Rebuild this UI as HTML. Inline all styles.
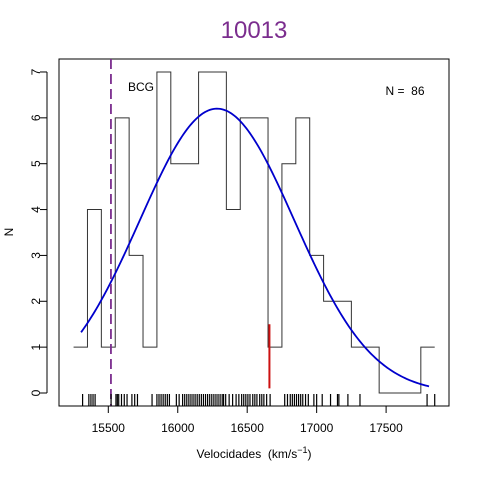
<!DOCTYPE html>
<html><head><meta charset="utf-8"><style>
html,body{margin:0;padding:0;background:#fff;}
svg{display:block;font-family:"Liberation Sans",sans-serif;}
</style></head><body>
<svg id="chart" width="480" height="480">
<text x="254" y="38" text-anchor="middle" font-size="24" fill="#7b2d8e">10013</text>
<rect x="59" y="59" width="390" height="347" fill="none" stroke="#000" stroke-width="1"/>
<g id="axes"></g>
<g id="marks"></g>
<text x="141" y="91" text-anchor="middle" font-size="12">BCG</text>
<text x="405" y="95" text-anchor="middle" font-size="12">N =&#160; 86</text>
<text x="254" y="458" text-anchor="middle" font-size="12">Velocidades&#160; (km/s<tspan dy="-5" font-size="9">−1</tspan><tspan dy="5">)</tspan></text>
<text transform="translate(13,232) rotate(-90)" text-anchor="middle" font-size="12">N</text>
</svg>
<script>
const binEdges = [15250,15350,15450,15550,15650,15750,15850,15950,16050,16150,16250,16350,16450,16550,16650,16750,16850,16950,17050,17150,17250,17350,17450,17550,17650,17750,17850];
const binCounts = [1,4,1,6,3,1,7,5,5,7,7,4,6,6,1,5,6,3,2,2,1,1,0,0,0,1];
const xTicks = [15500,16000,16500,17000,17500];
const yTicks = [0,1,2,3,4,5,6,7];
const rugValues = [15315,15360,15375,15390,15405,15520,15555,15565,15575,15595,15615,15635,15670,15690,15710,15815,15850,15865,15880,15895,15910,15925,15940,15990,16010,16035,16050,16065,16080,16095,16110,16125,16140,16155,16170,16185,16200,16215,16230,16245,16260,16275,16290,16305,16320,16330,16345,16370,16395,16420,16440,16460,16475,16490,16505,16520,16540,16555,16570,16590,16605,16620,16640,16665,16770,16790,16810,16825,16840,16855,16870,16885,16900,16920,16940,16980,17000,17040,17100,17150,17160,17225,17312,17795,17850];
const fitMean = [16283];
const fitSd = [557];
const fitPeak = [6.2];
const fitRange = [15304,17809];
const bcgVelocity = [15519];
const markerVelocity = [16660];
const markerRange = [0.1,1.5];

const NS="http://www.w3.org/2000/svg";
const X = v => 108.3 + (v-15500)*0.1389;
const Y = n => 393 - n*45.86;
const axes=document.getElementById('axes'), marks=document.getElementById('marks');
function mk(tag, attrs, parent){const e=document.createElementNS(NS,tag);for(const k in attrs)e.setAttribute(k,attrs[k]);parent.appendChild(e);return e;}

let xa=mk('line',{x1:X(xTicks[0]),x2:X(xTicks[xTicks.length-1]),y1:406,y2:406,stroke:'#000'},axes);


xTicks.forEach(t=>{
  const l=mk('line',{x1:X(t),x2:X(t),y1:406,y2:413,stroke:'#000'},axes);
  
  
  const tx=mk('text',{x:X(t),y:432,'text-anchor':'middle','font-size':12},axes);
  tx.textContent=t;
  
  
});
let ya=mk('line',{x1:47,x2:47,y1:Y(0),y2:Y(7),stroke:'#000'},axes);


yTicks.forEach(t=>{
  const l=mk('line',{x1:40,x2:47,y1:Y(t),y2:Y(t),stroke:'#000'},axes);
  
  
  const tx=mk('text',{transform:`translate(40,${Y(t)}) rotate(-90)`,'text-anchor':'middle','font-size':12},axes);
  tx.textContent=t;
  
  
});
let d=`M${X(binEdges[0])},${Y(binCounts[0])}`;
for(let i=0;i<binCounts.length;i++){
  if(i>0)d+=` L${X(binEdges[i])},${Y(binCounts[i])}`;
  d+=` L${X(binEdges[i+1])},${Y(binCounts[i])}`;
}
const h=mk('path',{d:d,fill:'none',stroke:'#333',"stroke-width":1},marks);


let c='';
for(let i=0;i<=200;i++){
  const v=fitRange[0]+(fitRange[1]-fitRange[0])*i/200;
  const n=fitPeak[0]*Math.exp(-Math.pow(v-fitMean[0],2)/(2*fitSd[0]*fitSd[0]));
  c+=(i?' L':'M')+X(v).toFixed(2)+','+Y(n).toFixed(2);
}
const cv=mk('path',{d:c,fill:'none',stroke:'#0000cc',"stroke-width":1.8},marks);


const b=mk('line',{x1:X(bcgVelocity[0]),x2:X(bcgVelocity[0]),y1:59,y2:406,stroke:'#7b2d8e','stroke-width':1.8,'stroke-dasharray':'10,5'},marks);


const r=mk('line',{x1:X(markerVelocity[0]),x2:X(markerVelocity[0]),y1:Y(markerRange[0]),y2:Y(markerRange[1]),stroke:'#cc1111','stroke-width':2},marks);


rugValues.forEach(v=>{
  const l=mk('line',{x1:X(v),x2:X(v),y1:394,y2:406,stroke:'#000','stroke-width':1.2},marks);
  
  
});
</script>
</body></html>
